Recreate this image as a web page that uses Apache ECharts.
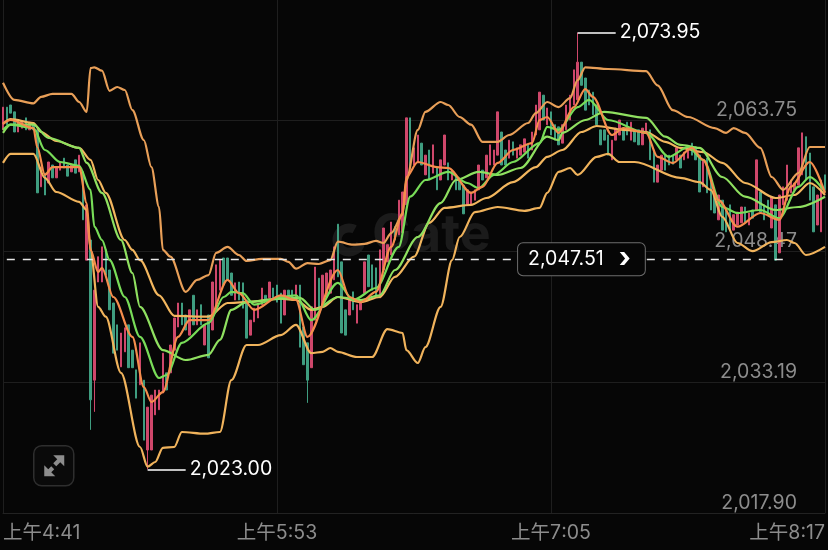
<!DOCTYPE html>
<html><head><meta charset="utf-8">
<style>html,body{margin:0;padding:0;background:#060606}#c{width:828px;height:550px}</style>
<script src="https://cdn.jsdelivr.net/npm/echarts@6/dist/echarts.min.js"></script>
</head><body><div id="c"></div>
<script>
// [open, close, low?, high?] one row per minute
const candleRows = [
[2062.6,2065.25],[2065.25,2063.2],[2065.5,2064.55],[2064.7,2062.35],[2062.35,2063.75],[2062.8,2063.5],[2064.0,2062.6],[2062.6,2063.5],[2063.3,2062.6],[2062.6,2055.25],
[2055.95,2058.25],[2057.55,2055.0],[2056.4,2058.85],[2058.5,2057.0],[2057.0,2058.15],[2057.9,2058.85],[2059.3,2058.15],[2058.5,2057.2],[2057.7,2058.5],[2059.1,2057.55],
[2057.7,2059.65],[2057.7,2052.1],[2047.4,2053.85],[2049.75,2031.1,2027.6,2049.75],[2033.4,2043.9,2029.7,2043.9],[2044.85,2047.8],[2044.85,2048.95],[2048.6,2045.65],[2046.25,2041.6],[2042.4,2036.55],
[2039.85,2036.9],[2034.95,2038.9],[2036.7,2039.5],[2039.85,2034.85],[2036.9,2034.85],[2034.6,2031.3],[2032.85,2037.75],[2033.4,2026.4],[2025.25,2030.25,2023.0,2030.25],[2025.25,2031.65],
[2029.35,2032.25],[2029.95,2032.25],[2031.9,2036.55],[2034.25,2032.25],[2034.25,2037.5],[2036.9,2040.65],[2039.6,2042.4],[2042.4,2039.85],[2041.0,2039.25],[2038.65,2041.6],
[2043.3,2039.85],[2039.85,2041.6],[2042.2,2039.85],[2037.5,2039.85],[2041.0,2036.0],[2039.25,2044.85],[2041.95,2046.85],[2043.9,2047.4],[2047.65,2044.5],[2047.65,2045.1],
[2045.9,2043.3],[2042.75,2044.75],[2044.85,2042.75],[2044.75,2041.8],[2042.75,2038.3],[2038.65,2040.4],[2040.2,2041.8],[2040.65,2042.2],[2042.2,2044.15],[2043.3,2042.75],
[2043.0,2044.85],[2044.15,2043.0],[2044.5,2042.5],[2043.55,2040.05],[2041.0,2043.9],[2043.9,2043.0],[2043.9,2042.75],[2042.75,2044.5],[2044.5,2037.25],[2039.6,2035.2],
[2037.75,2033.4,2030.75,2037.75],[2034.85,2041.95],[2040.4,2046.6],[2045.3,2041.6],[2041.95,2045.65],[2043.1,2045.9],[2043.55,2046.25],[2045.1,2048.95],[2051.6,2045.45],[2047.2,2038.9],
[2041.6,2038.65],[2041.0,2042.75],[2043.7,2041.6],[2040.05,2042.2],[2041.6,2042.75],[2043.55,2047.2],[2048.0,2044.3],[2046.85,2043.9],[2046.5,2043.3],[2043.0,2048.6],
[2046.25,2051.15],[2047.2,2049.2],[2048.0,2051.85],[2051.3,2049.75],[2050.35,2054.4],[2050.6,2055.35],[2053.85,2064.0],[2064.0,2058.15],[2058.5,2060.5],[2058.75,2062.0],
[2061.05,2058.5],[2057.35,2059.65],[2060.25,2056.75],[2057.55,2060.85],[2058.15,2055.6],[2056.75,2059.1],[2058.5,2062.0],[2058.75,2056.75],[2056.75,2057.9],[2057.35,2055.6],
[2056.75,2055.6],[2056.15,2052.8],[2053.85,2055.6],[2053.85,2055.35],[2054.4,2055.6],[2055.6,2058.5],[2057.9,2056.75],[2057.0,2059.65],[2058.5,2060.85],[2058.5,2060.25],
[2059.65,2064.7],[2062.35,2058.5],[2060.25,2058.5],[2059.3,2061.4],[2061.2,2059.65],[2059.3,2060.5],[2059.65,2060.85],[2060.0,2061.55],[2060.85,2059.3],[2060.25,2062.35],
[2062.0,2065.5],[2062.6,2067.0],[2066.65,2063.75],[2063.2,2065.15],[2064.7,2062.0],[2063.2,2061.4],[2062.95,2060.85],[2061.05,2063.2],[2062.6,2065.5],[2063.75,2066.65],
[2065.5,2069.6],[2066.1,2070.5,2066.1,2073.95],[2070.5,2067.8],[2068.65,2064.9],[2067.25,2065.5],[2067.0,2064.35],[2065.5,2063.2],[2062.6,2060.85],[2062.6,2061.4],[2062.0,2059.65],
[2059.1,2061.4],[2061.4,2062.8],[2062.0,2063.75],[2062.8,2061.4],[2063.5,2062.0],[2061.4,2063.5],[2062.6,2061.2],[2062.6,2060.85],[2060.85,2062.8],[2062.25,2063.4],
[2062.6,2059.1],[2060.25,2056.5],[2056.5,2058.5],[2057.9,2059.65],[2059.65,2057.9],[2059.65,2058.5],[2059.6,2058.6],[2059.1,2060.5],[2059.65,2058.15],[2059.1,2060.0],
[2059.3,2060.25],[2061.05,2059.65],[2060.6,2059.1],[2059.65,2055.35],[2055.95,2059.1],[2059.3,2055.25],[2056.75,2053.25],[2055.0,2052.9],[2052.1,2055.0],[2054.4,2050.9],
[2053.25,2050.7],[2053.85,2050.9],[2050.9,2052.7],[2051.5,2053.0],[2051.75,2053.6],[2053.6,2051.85],[2051.5,2052.9],[2053.25,2052.3],[2053.25,2059.1],[2055.35,2053.0],
[2053.85,2052.1],[2054.4,2052.7],[2051.15,2054.8],[2053.85,2047.4],[2048.25,2055.0],[2053.85,2055.95],[2054.4,2058.5],[2055.25,2056.75],[2055.6,2056.4],[2056.15,2060.5],
[2057.35,2062.25],[2061.8,2056.75],[2059.9,2054.4],[2055.95,2050.7],[2051.5,2055.0],[2050.7,2056.75],[2057.35,2055.6]
];
// Line samples: [minute index, price]
const bollUpper = [[0,2068.1],[3,2066.1],[8,2065.7],[10,2066.45],[13,2066.8],[18,2066.8],[20,2065.85],[22,2064.7],[23,2069.8],[24,2069.9],[26,2069.5],[28,2067.15],[30,2067.6],[32,2067.25],[34,2064.9],[37,2061.4],[39,2058.25],[41,2053.6],[42,2048.6],[44,2047.8],[48,2043.7],[51,2045.1],[54,2045.65],[56,2048.25],[59,2048.95],[62,2048.0],[64,2047.3],[68,2047.55],[73,2047.55],[75,2047.2],[77,2046.4],[80,2047.05],[83,2046.95],[86,2047.4],[88,2049.55],[92,2049.2],[95,2049.3],[98,2049.65],[100,2049.4],[102,2050.55],[105,2052.7],[106,2056.75],[109,2062.6],[111,2064.7],[115,2065.85],[117,2065.5],[120,2064.1],[123,2063.2],[126,2061.2],[130,2061.2],[133,2062.0],[138,2063.4],[140,2064.55],[143,2065.85],[146,2065.25],[149,2066.3],[151,2068.4],[153,2069.9],[159,2069.7],[169,2069.45],[172,2067.8],[176,2064.9],[180,2064.1],[187,2062.8],[190,2062.25],[192,2062.8],[195,2062.25],[199,2060.5],[202,2057.1],[205,2055.6],[209,2057.55],[212,2060.6],[216,2060.6]];
const bollLower = [[0,2058.75],[2,2059.8],[8,2059.8],[11,2057.0],[14,2055.35],[20,2054.2],[22,2053.25],[23,2048.6],[25,2041.95],[27,2040.8],[31,2034.25],[36,2025.6],[38,2023.3],[40,2023.85],[42,2025.5],[45,2025.6],[47,2027.35],[53,2027.15],[57,2027.35],[60,2033.4],[64,2037.5],[67,2037.5],[73,2038.65],[77,2039.85],[81,2036.55],[84,2036.7],[86,2037.15],[88,2036.7],[93,2036.1],[97,2036.1],[101,2039.35],[105,2038.9],[106,2036.9],[109,2035.4],[111,2037.25],[115,2041.95],[118,2047.4],[120,2050.1],[124,2053.0],[130,2053.6],[137,2053.15],[141,2053.5],[143,2055.25],[146,2057.7],[149,2058.15],[151,2057.35],[156,2059.45],[159,2059.8],[162,2058.85],[166,2058.85],[178,2057.0],[183,2056.5],[186,2055.6],[189,2052.45],[193,2049.4],[197,2048.45],[202,2049.5],[206,2049.75],[208,2049.4],[211,2048.0],[216,2048.95]];
const bollMid = [[0,2063.3],[2,2063.85],[8,2063.4],[10,2062.35],[14,2061.3],[20,2060.5],[23,2059.1],[25,2056.75],[27,2055.25],[32,2049.75],[34,2048.6],[36,2047.4],[41,2043.3],[45,2040.9],[54,2040.8],[59,2042.4],[64,2042.5],[73,2042.9],[77,2042.75],[81,2041.6],[84,2041.95],[88,2043.1],[94,2042.5],[99,2043.1],[103,2045.45],[108,2047.8],[112,2051.75],[116,2053.5],[123,2053.85],[127,2054.65],[134,2056.5],[140,2058.25],[143,2059.45],[147,2060.25],[152,2062.35],[156,2063.05],[163,2062.6],[169,2062.35],[174,2061.2],[178,2060.5],[184,2060.0],[189,2058.75],[195,2056.4],[203,2054.65],[208,2055.0],[212,2056.4],[216,2055.0]];
const maFast = [[0,2063.3],[2,2063.75],[8,2062.8],[9,2060.6],[11,2057.35],[13,2058.25],[16,2058.25],[20,2058.25],[22,2054.05],[23,2048.6],[25,2046.0],[26,2046.5],[29,2043.1],[34,2038.45],[37,2032.6],[39,2030.85],[42,2032.0],[46,2038.45],[49,2040.4],[54,2040.4],[59,2045.1],[62,2043.55],[66,2041.6],[73,2043.3],[77,2042.75],[80,2038.45],[88,2046.25],[91,2043.1],[94,2042.5],[98,2043.7],[102,2048.95],[105,2052.9],[106,2057.1],[109,2058.85],[114,2058.25],[117,2058.15],[123,2055.25],[126,2055.95],[130,2058.75],[134,2060.25],[139,2061.05],[141,2063.75],[143,2064.1],[146,2062.25],[150,2065.25],[153,2067.35],[155,2066.45],[160,2062.0],[163,2062.8],[169,2062.25],[172,2059.45],[176,2058.75],[181,2060.5],[184,2059.1],[188,2054.4],[193,2051.3],[199,2052.9],[204,2052.1],[207,2055.95],[212,2058.85],[216,2055.25]];
const maGreenA = [[0,2062.6],[2,2063.2],[8,2062.8],[11,2060.25],[15,2058.85],[20,2058.4],[23,2055.6],[24,2051.3],[26,2049.75],[28,2047.4],[32,2043.1],[36,2038.45],[41,2033.65],[43,2034.0],[47,2037.75],[54,2040.05],[58,2043.1],[60,2043.7],[63,2043.55],[66,2042.2],[73,2043.1],[77,2043.3],[81,2040.4],[88,2044.75],[92,2042.75],[98,2044.15],[104,2048.95],[107,2054.8],[111,2056.75],[117,2057.7],[122,2056.4],[125,2055.8],[129,2057.35],[134,2058.85],[141,2061.05],[143,2062.95],[146,2062.6],[151,2065.25],[154,2066.1],[159,2063.75],[169,2062.25],[175,2059.45],[180,2060.6],[184,2059.1],[189,2053.6],[193,2052.9],[199,2053.25],[204,2052.3],[209,2055.95],[212,2057.1],[216,2055.35]];
const maGreenB = [[0,2062.25],[2,2063.2],[8,2063.2],[12,2061.65],[20,2060.5],[22,2058.75],[26,2055.25],[31,2049.75],[34,2045.9],[36,2041.95],[42,2036.9],[48,2035.75],[54,2036.35],[57,2038.1],[60,2041.6],[64,2042.5],[73,2042.9],[78,2043.0],[82,2041.6],[88,2043.1],[94,2042.75],[99,2043.3],[103,2046.25],[109,2050.1],[115,2054.05],[119,2056.75],[125,2057.7],[130,2057.35],[136,2058.15],[143,2061.8],[146,2061.4],[147,2062.25],[153,2063.75],[158,2064.7],[169,2064.0],[174,2061.8],[178,2060.85],[183,2060.5],[189,2057.1],[195,2054.8],[203,2053.25],[209,2053.6],[216,2054.8]];
const priceTicks = [2017.90, 2033.19, 2048.47, 2063.75];
const highPrice = 2073.95, highIndex = 151;
const lowPrice = 2023.00, lowIndex = 38;
const lastPrice = 2047.51;
const startMinute = 4 * 60 + 41;

const categories = candleRows.map((_, i) => {
  const t = startMinute + i, m = t % 60;
  return '上午' + Math.floor(t / 60) + ':' + (m < 10 ? '0' + m : m);
});
const fmt = v => v.toLocaleString('en-US', {minimumFractionDigits: 2, maximumFractionDigits: 2});
const candleData = candleRows.map(r => [r[0], r[1],
  r[2] !== undefined ? r[2] : Math.min(r[0], r[1]),
  r[3] !== undefined ? r[3] : Math.max(r[0], r[1])]);

const font = 'Inter, "Noto Sans CJK SC", sans-serif';
const lineOf = (name, data, color, z) => ({
  name, type: 'line', data, smooth: 0.3, smoothMonotone: 'x', symbol: 'none', z,
  lineStyle: {color, width: 2.2}, silent: true
});
const endLabel = {show: true, position: 'end', color: '#ffffff', fontSize: 19.5, fontFamily: font, distance: 4};

const chart = echarts.init(document.getElementById('c'), null, {renderer: 'canvas'});
chart.setOption({
  backgroundColor: '#060606',
  animation: false,
  grid: {left: 2, right: 1, top: 0, bottom: 37},
  graphic: [
    {type: 'arc', z: 0, shape: {cx: 349, cy: 240, r: 12, startAngle: 0.3, endAngle: 5.2}, style: {stroke: '#1b1b1b', lineWidth: 9, fill: 'none'}},
    {type: 'text', z: 0, left: 372, top: 209, style: {text: 'Gate', fontSize: 52, fontWeight: 'bold', fontFamily: font, fill: '#1b1b1b'}},
    {type: 'group', left: 33, top: 445, children: [
      {type: 'rect', shape: {x: 0.5, y: 0.5, width: 40, height: 40, r: 8}, style: {fill: '#0a0a0a', stroke: '#2e2e2e', lineWidth: 1.5}},
      {type: 'polygon', shape: {points: [[20,10],[31,10],[31,21],[27,17],[23,21],[20,18],[24,14]]}, style: {fill: '#8d8d8d'}},
      {type: 'polygon', shape: {points: [[11,20],[11,31],[22,31],[18,27],[21,24],[18,21],[15,24]]}, style: {fill: '#8d8d8d'}}
    ]}
  ],
  xAxis: {
    type: 'category', data: categories, boundaryGap: false,
    axisLine: {lineStyle: {color: '#222222'}}, axisTick: {show: false},
    axisLabel: {interval: 71, color: '#8c8c8c', fontSize: 19.5, fontFamily: font, margin: 10,
      alignMinLabel: 'left', alignMaxLabel: 'right', showMinLabel: true, showMaxLabel: true},
    splitLine: {show: true, interval: 71, lineStyle: {color: '#1e1e1e', width: 1}}
  },
  yAxis: {
    type: 'value', position: 'right', min: 2017.9, max: 2077.75, scale: true,
    axisLine: {show: false},
    axisTick: {show: false, customValues: priceTicks},
    axisLabel: {inside: true, customValues: priceTicks, margin: 28, color: '#8c8c8c', fontSize: 19.5, fontFamily: font,
      verticalAlign: 'bottom', formatter: fmt, padding: [0, 0, 0, 0], showMinLabel: true, showMaxLabel: true},
    splitLine: {show: true, lineStyle: {color: '#1e1e1e', width: 1}}
  },
  series: [
    {
      type: 'candlestick', name: 'ETH', data: candleData, barWidth: 2, z: 3, silent: true,
      itemStyle: {color: '#cf476b', color0: '#3f9d80', borderColor: '#cf476b', borderColor0: '#3f9d80', borderWidth: 1}
    },
    lineOf('bollUpper', bollUpper, '#e89f58', 4),
    lineOf('bollLower', bollLower, '#f0b35c', 4),
    lineOf('bollMid', bollMid, '#f2b65e', 4),
    lineOf('maGreenB', maGreenB, '#8fe060', 5),
    lineOf('maGreenA', maGreenA, '#78dc58', 5),
    lineOf('maFast', maFast, '#f58d4c', 6),
    {
      type: 'line', name: 'annotations', data: [], z: 8, silent: true,
      markLine: {
        silent: true, symbol: 'none', animation: false,
        data: [
          [{coord: [1, lastPrice], lineStyle: {color: '#e8e8e8', type: [8, 8], width: 1.4}, label: {show: false}}, {coord: [207, lastPrice]}],
          [{coord: [highIndex, highPrice], lineStyle: {color: '#ffffff', type: 'solid', width: 1.6}, label: Object.assign({formatter: fmt(highPrice)}, endLabel)}, {coord: [highIndex + 10, highPrice]}],
          [{coord: [lowIndex, lowPrice], lineStyle: {color: '#ffffff', type: 'solid', width: 1.6}, label: Object.assign({formatter: fmt(lowPrice)}, endLabel)}, {coord: [lowIndex + 10, lowPrice]}]
        ]
      },
      markPoint: {
        silent: true, symbol: 'rect', symbolSize: 1, itemStyle: {color: 'transparent'}, z: 20,
        data: [{coord: [152, lastPrice], label: {
          show: true, position: 'inside',
          formatter: '{a|' + fmt(lastPrice) + '}{b|›}',
          backgroundColor: '#060606', borderColor: '#6e6e6e', borderWidth: 1, borderRadius: 5, padding: [5, 10],
          rich: {
            a: {color: '#ffffff', fontSize: 19.5, lineHeight: 22, fontFamily: font},
            b: {color: '#ffffff', fontSize: 28, lineHeight: 22, fontWeight: 'bold', fontFamily: font, padding: [0, 4, 2, 15]}
          }
        }}]
      }
    }
  ]
});
</script></body></html>
